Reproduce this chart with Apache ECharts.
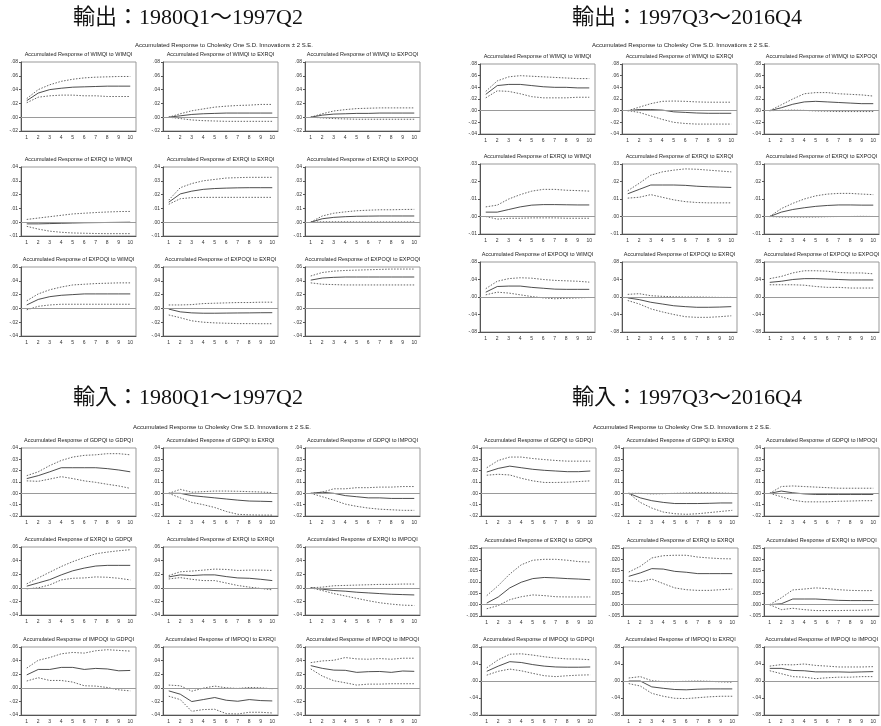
<!DOCTYPE html>
<html>
<head>
<meta charset="utf-8">
<script src="https://cdn.jsdelivr.net/npm/echarts@6/dist/echarts.min.js"></script>
<style>
html, body { margin: 0; padding: 0; background: #fff; }
#chart { width: 881px; height: 726px; }
</style>
</head>
<body>
<div id="chart"></div>
<script>
// horizon labels
const periods = ['1', '2', '3', '4', '5', '6', '7', '8', '9', '10'];
const exportVars = ['WIMQI', 'EXRQI', 'EXPOQI'];
const importVars = ['GDPQI', 'EXRQI', 'IMPOQI'];

// y ticks per row: [min, max, step, decimals]
const ex1Ticks = [[-0.02, 0.08, 0.02, 2], [-0.01, 0.04, 0.01, 2], [-0.04, 0.06, 0.02, 2]];
const ex2Ticks = [[-0.04, 0.08, 0.02, 2], [-0.01, 0.03, 0.01, 2], [-0.08, 0.08, 0.04, 2]];
const im1Ticks = [[-0.02, 0.04, 0.01, 2], [-0.04, 0.06, 0.02, 2], [-0.04, 0.06, 0.02, 2]];
const im2Ticks = [[-0.02, 0.04, 0.01, 2], [-0.005, 0.025, 0.005, 3], [-0.08, 0.08, 0.04, 2]];

// each panel: [response, upper band, lower band]
// 輸出 1980Q1～1997Q2
const ex1_WIMQI_WIMQI = [
  [.024, .035, .040, .042, .0435, .044, .0445, .045, .045, .045],
  [.027, .040, .047, .052, .055, .057, .058, .0585, .059, .059],
  [.021, .029, .031, .032, .032, .031, .031, .030, .030, .030]];
const ex1_WIMQI_EXRQI = [
  [0, .002, .004, .005, .0055, .006, .006, .006, .006, .006],
  [0, .005, .0093, .012, .0146, .016, .017, .0175, .0185, .0185],
  [0, -.002, -.004, -.005, -.0055, -.006, -.006, -.006, -.006, -.006]];
const ex1_WIMQI_EXPOQI = [
  [0, .003, .0045, .005, .0055, .0055, .006, .006, .006, .006],
  [0, .005, .009, .011, .0125, .013, .0135, .0135, .0135, .0135],
  [0, -.001, -.002, -.0025, -.003, -.003, -.003, -.003, -.003, -.003]];
const ex1_EXRQI_WIMQI = [
  [-.0012, -.0012, -.001, -.0008, -.0006, -.0004, -.0003, -.0002, -.0001, 0],
  [.002, .003, .004, .005, .006, .0065, .007, .0074, .0077, .0078],
  [-.003, -.005, -.0065, -.0073, -.0078, -.008, -.0082, -.0083, -.0083, -.0083]];
const ex1_EXRQI_EXRQI = [
  [.0145, .0205, .0225, .0238, .0244, .0247, .0249, .025, .025, .025],
  [.016, .025, .028, .030, .031, .032, .0323, .0325, .0325, .0325],
  [.013, .017, .0178, .018, .018, .018, .018, .018, .018, .018]];
const ex1_EXRQI_EXPOQI = [
  [0, .0025, .0035, .004, .0043, .0044, .0045, .0045, .0045, .0045],
  [0, .0045, .0065, .0075, .0083, .0087, .009, .009, .0092, .0093],
  [0, .0003, .0003, .0003, .0002, .0002, .0002, .0002, .0002, .0002]];
const ex1_EXPOQI_WIMQI = [
  [.005, .013, .017, .019, .020, .021, .021, .021, .021, .021],
  [.011, .021, .027, .031, .034, .035, .036, .0365, .037, .037],
  [-.002, .003, .005, .006, .006, .006, .006, .006, .006, .006]];
const ex1_EXPOQI_EXRQI = [
  [-.001, -.005, -.0065, -.007, -.007, -.0068, -.0066, -.0065, -.0063, -.0062],
  [.005, .005, .0055, .007, .0075, .008, .0085, .0085, .009, .009],
  [-.0095, -.0135, -.018, -.020, -.021, -.0215, -.022, -.022, -.0222, -.0222]];
const ex1_EXPOQI_EXPOQI = [
  [.041, .044, .045, .0455, .0455, .0455, .0455, .0455, .0455, .0455],
  [.047, .052, .054, .055, .0555, .056, .0565, .057, .057, .057],
  [.037, .035, .0345, .034, .034, .034, .034, .034, .034, .034]];

// 輸出 1997Q3～2016Q4
const ex2_WIMQI_WIMQI = [
  [.028, .043, .045, .045, .043, .041, .040, .040, .039, .039],
  [.033, .051, .058, .060, .059, .058, .057, .056, .055, .055],
  [.022, .034, .033, .029, .024, .022, .022, .022, .023, .023]];
const ex2_WIMQI_EXRQI = [
  [0, .002, .002, .001, -.002, -.003, -.004, -.0045, -.0045, -.0045],
  [0, .006, .012, .016, .0165, .016, .015, .0145, .0145, .0145],
  [0, -.003, -.009, -.015, -.020, -.022, -.023, -.023, -.023, -.023]];
const ex2_WIMQI_EXPOQI = [
  [0, .005, .011, .015, .016, .015, .014, .013, .012, .012],
  [0, .010, .020, .029, .031, .031, .029, .028, .027, .025],
  [0, .0005, .001, .0005, -.0005, -.001, -.0015, -.0015, -.0015, -.0015]];
const ex2_EXRQI_WIMQI = [
  [.0025, .0025, .004, .0055, .0065, .0068, .0068, .0067, .0066, .0066],
  [.0055, .0065, .010, .0125, .0145, .0155, .0155, .015, .0148, .0145],
  [0, -.0015, -.001, -.001, -.0008, -.0008, -.0008, -.001, -.001, -.001]];
const ex2_EXRQI_EXRQI = [
  [.013, .0155, .018, .018, .018, .0178, .0173, .017, .0168, .0166],
  [.0147, .019, .0236, .0255, .0265, .0272, .027, .0265, .026, .0255],
  [.0105, .011, .0125, .011, .0095, .0085, .008, .0078, .0078, .0078]];
const ex2_EXRQI_EXPOQI = [
  [0, .0025, .004, .005, .0058, .0063, .0066, .0066, .0065, .0065],
  [0, .0045, .0075, .010, .0118, .0128, .0132, .0132, .0128, .0125],
  [0, -.0003, -.0003, -.0003, -.0003, -.0001, 0, 0, .0001, 0]];
const ex2_EXPOQI_WIMQI = [
  [.011, .024, .025, .025, .022, .020, .018, .0175, .0175, .0175],
  [.019, .036, .042, .044, .043, .040, .038, .037, .036, .034],
  [.005, .011, .009, .005, .001, -.002, -.004, -.003, -.002, -.001]];
const ex2_EXPOQI_EXRQI = [
  [-.002, -.006, -.012, -.016, -.020, -.022, -.0235, -.0235, -.023, -.022],
  [.006, .0076, .003, .0015, .0005, 0, 0, -.0005, -.001, -.001],
  [-.008, -.016, -.027, -.034, -.040, -.045, -.0465, -.0465, -.045, -.043]];
const ex2_EXPOQI_EXPOQI = [
  [.0335, .036, .040, .042, .042, .041, .040, .039, .039, .039],
  [.042, .047, .055, .060, .060, .059, .056, .055, .055, .053],
  [.028, .028, .028, .027, .024, .022, .022, .0205, .0205, .0205]];

// 輸入 1980Q1～1997Q2
const im1_GDPQI_GDPQI = [
  [.013, .0156, .019, .0226, .0226, .0226, .0226, .0218, .0206, .019],
  [.0156, .019, .0245, .029, .032, .0335, .034, .035, .035, .034],
  [.011, .0106, .0126, .0147, .013, .011, .0097, .008, .0065, .0044]];
const im1_GDPQI_EXRQI = [
  [0, 0, -.002, -.003, -.004, -.005, -.006, -.0068, -.007, -.0073],
  [0, .0035, .001, .0015, .002, .002, .0018, .0015, .0012, .0006],
  [0, -.004, -.008, -.010, -.0125, -.016, -.0185, -.019, -.0192, -.0192]];
const im1_GDPQI_IMPOQI = [
  [0, .001, 0, -.002, -.003, -.004, -.004, -.0045, -.0045, -.0045],
  [0, .001, .004, .004, .005, .005, .0055, .0055, .006, .006],
  [0, -.003, -.006, -.0095, -.0115, -.013, -.014, -.0145, -.015, -.015]];
const im1_EXRQI_GDPQI = [
  [.0024, .0072, .012, .019, .025, .029, .032, .033, .033, .033],
  [.0058, .0145, .023, .0313, .0385, .0445, .050, .0525, .0545, .056],
  [-.0015, 0, .0043, .0116, .014, .0145, .016, .0155, .014, .0116]];
const im1_EXRQI_EXRQI = [
  [.016, .019, .018, .019, .019, .0165, .0145, .014, .0125, .0106],
  [.018, .0236, .0246, .026, .0275, .027, .0255, .026, .026, .0255],
  [.013, .015, .0125, .0106, .0106, .007, .0034, .001, -.001, -.003]];
const im1_EXRQI_IMPOQI = [
  [0, -.002, -.004, -.005, -.0065, -.0075, -.0085, -.0095, -.010, -.0105],
  [0, .001, .003, .0035, .004, .0045, .005, .005, .0055, .0055],
  [0, -.004, -.0085, -.012, -.0155, -.019, -.022, -.024, -.0255, -.026]];
const im1_IMPOQI_GDPQI = [
  [.019, .027, .027, .030, .030, .027, .0285, .0277, .025, .0255],
  [.029, .0405, .0445, .050, .052, .051, .0545, .056, .055, .054],
  [.010, .0148, .0108, .0108, .0084, .003, .0025, .0005, -.003, -.0045]];
const im1_IMPOQI_EXRQI = [
  [-.0045, -.0094, -.0202, -.0173, -.0143, -.0183, -.0198, -.0173, -.0188, -.0193],
  [.004, .003, -.005, -.0005, .0025, 0, -.001, .0005, 0, -.0015],
  [-.0124, -.0173, -.0346, -.032, -.0316, -.038, -.0385, -.036, -.036, -.037]];
const im1_IMPOQI_IMPOQI = [
  [.0326, .0286, .026, .0257, .0227, .0237, .024, .0227, .0247, .0242],
  [.037, .0395, .0405, .0445, .0425, .042, .043, .042, .0435, .0435],
  [.0277, .0173, .0104, .0074, .004, .0054, .0054, .006, .006, .006]];

// 輸入 1997Q3～2016Q4
const im2_GDPQI_GDPQI = [
  [.0188, .022, .024, .0226, .0212, .0203, .0197, .0191, .0191, .0197],
  [.0226, .029, .032, .032, .0307, .0298, .029, .0284, .0284, .0284],
  [.016, .0168, .0162, .0133, .011, .0096, .0096, .0098, .0104, .011]];
const im2_GDPQI_EXRQI = [
  [0, -.004, -.0065, -.008, -.009, -.009, -.009, -.0088, -.0085, -.0085],
  [0, 0, -.0005, -.0003, 0, .0003, .0005, .0005, .0003, 0],
  [0, -.008, -.013, -.0165, -.018, -.0185, -.018, -.017, -.016, -.015]];
const im2_GDPQI_IMPOQI = [
  [0, .002, .0005, -.0005, -.001, -.001, -.001, -.001, -.001, -.001],
  [0, .006, .0065, .006, .0055, .005, .0045, .0045, .0045, .0045],
  [0, -.003, -.006, -.0075, -.0075, -.0075, -.007, -.0068, -.0065, -.0065]];
const im2_EXRQI_GDPQI = [
  [.0007, .0034, .0074, .0099, .0115, .012, .0118, .0115, .0113, .011],
  [.004, .0084, .0135, .0176, .0196, .020, .020, .0196, .019, .0188],
  [-.0018, -.0004, .0022, .0035, .0043, .004, .0035, .0034, .0034, .0034]];
const im2_EXRQI_EXRQI = [
  [.0125, .014, .0159, .0157, .0147, .0143, .0137, .0137, .0137, .0137],
  [.0144, .0169, .0206, .0216, .0218, .0218, .021, .0206, .0203, .0202],
  [.0106, .0101, .0113, .0093, .0074, .0066, .0063, .0063, .0066, .0069]];
const im2_EXRQI_IMPOQI = [
  [0, .0004, .0025, .0025, .0025, .0022, .0019, .0018, .0018, .0018],
  [0, .003, .0065, .0069, .0074, .0071, .0066, .0063, .0062, .0062],
  [0, -.0022, -.0016, -.0022, -.0026, -.0026, -.0026, -.0025, -.0025, -.0022]];
const im2_IMPOQI_GDPQI = [
  [.0228, .035, .0455, .0435, .0386, .035, .033, .0324, .0324, .033],
  [.031, .050, .063, .064, .061, .057, .054, .052, .0517, .050],
  [.0138, .0228, .028, .024, .018, .0124, .0103, .0124, .0138, .0145]];
const im2_IMPOQI_EXRQI = [
  [0, 0, -.0138, -.0172, -.020, -.0207, -.0193, -.0186, -.0186, -.0186],
  [.007, .0103, .0007, -.0014, -.0014, -.0007, 0, -.0007, -.002, -.0028],
  [-.0062, -.0117, -.029, -.0359, -.0407, -.0414, -.0393, -.0372, -.0359, -.0359]];
const im2_IMPOQI_IMPOQI = [
  [.0297, .0297, .0248, .0241, .0214, .0214, .0214, .0207, .0214, .0221],
  [.035, .0386, .038, .040, .0366, .035, .033, .033, .033, .0338],
  [.0241, .0172, .0103, .009, .0055, .0076, .009, .009, .0103, .0103]];

const ex1Panels = [ex1_WIMQI_WIMQI, ex1_WIMQI_EXRQI, ex1_WIMQI_EXPOQI,
  ex1_EXRQI_WIMQI, ex1_EXRQI_EXRQI, ex1_EXRQI_EXPOQI,
  ex1_EXPOQI_WIMQI, ex1_EXPOQI_EXRQI, ex1_EXPOQI_EXPOQI];
const ex2Panels = [ex2_WIMQI_WIMQI, ex2_WIMQI_EXRQI, ex2_WIMQI_EXPOQI,
  ex2_EXRQI_WIMQI, ex2_EXRQI_EXRQI, ex2_EXRQI_EXPOQI,
  ex2_EXPOQI_WIMQI, ex2_EXPOQI_EXRQI, ex2_EXPOQI_EXPOQI];
const im1Panels = [im1_GDPQI_GDPQI, im1_GDPQI_EXRQI, im1_GDPQI_IMPOQI,
  im1_EXRQI_GDPQI, im1_EXRQI_EXRQI, im1_EXRQI_IMPOQI,
  im1_IMPOQI_GDPQI, im1_IMPOQI_EXRQI, im1_IMPOQI_IMPOQI];
const im2Panels = [im2_GDPQI_GDPQI, im2_GDPQI_EXRQI, im2_GDPQI_IMPOQI,
  im2_EXRQI_GDPQI, im2_EXRQI_EXRQI, im2_EXRQI_IMPOQI,
  im2_IMPOQI_GDPQI, im2_IMPOQI_EXRQI, im2_IMPOQI_IMPOQI];

// quadrant layout (pixels)
const quads = [
  { title: '輸出：1980Q1～1997Q2', tx: 188, ty: 18, sx: 224, sy: 45, vars: exportVars, ticks: ex1Ticks, panels: ex1Panels,
    cols: [21, 163, 305], rows: [62, 167, 267], w: 115, h: 69 },
  { title: '輸出：1997Q3～2016Q4', tx: 687, ty: 18, sx: 681, sy: 45, vars: exportVars, ticks: ex2Ticks, panels: ex2Panels,
    cols: [480, 622, 764], rows: [64, 164, 262], w: 115, h: 70 },
  { title: '輸入：1980Q1～1997Q2', tx: 188, ty: 398, sx: 222, sy: 427, vars: importVars, ticks: im1Ticks, panels: im1Panels,
    cols: [21, 163, 305], rows: [448, 547, 647], w: 115, h: 68 },
  { title: '輸入：1997Q3～2016Q4', tx: 687, ty: 398, sx: 682, sy: 427, vars: importVars, ticks: im2Ticks, panels: im2Panels,
    cols: [481, 623, 764], rows: [448, 548, 647], w: 115, h: 68 }
];

const SMALL = "'Liberation Sans', Arial, sans-serif";
const grids = [], xAxes = [], yAxes = [], series = [], graphics = [];

quads.forEach(function (q) {
  graphics.push({
    type: 'text', x: q.tx, y: q.ty,
    style: { text: q.title, font: "22px 'Liberation Serif', 'Noto Sans CJK JP', serif", fill: '#111',
      textAlign: 'center', textVerticalAlign: 'middle' }
  });
  graphics.push({
    type: 'text', x: q.sx, y: q.sy,
    style: { text: 'Accumulated Response to Cholesky One S.D. Innovations \u00b1 2 S.E.', font: '6px ' + SMALL, fill: '#222',
      textAlign: 'center', textVerticalAlign: 'middle' }
  });
  for (let r = 0; r < 3; r++) {
    const t = q.ticks[r];
    for (let c = 0; c < 3; c++) {
      const idx = grids.length;
      const left = q.cols[c], top = q.rows[r];
      grids.push({ left: left, top: top, width: q.w, height: q.h, show: true, borderColor: '#999', borderWidth: 1,
        backgroundColor: '#fff', outerBoundsMode: 'none' });
      graphics.push({
        type: 'text', x: left + q.w / 2, y: top - 8,
        style: { text: 'Accumulated Response of ' + q.vars[r] + ' to ' + q.vars[c], font: '5.5px ' + SMALL, fill: '#222',
          textAlign: 'center', textVerticalAlign: 'middle' }
      });
      xAxes.push({
        type: 'category', gridIndex: idx, data: periods, boundaryGap: true,
        axisLine: { onZero: false, lineStyle: { color: '#555', width: 1 } },
        axisTick: { alignWithLabel: true, length: 2, lineStyle: { color: '#555' } },
        axisLabel: { fontSize: 5, color: '#333', margin: 4, interval: 0, fontFamily: SMALL },
        splitLine: { show: false }
      });
      yAxes.push({
        type: 'value', gridIndex: idx, min: t[0], max: t[1], interval: t[2],
        axisLine: { show: true, lineStyle: { color: '#555', width: 1 } },
        axisTick: { show: true, length: 2, lineStyle: { color: '#555' } },
        axisLabel: { fontSize: 5, color: '#333', margin: 3, fontFamily: SMALL,
          formatter: function (v) {
            const s = Math.abs(v).toFixed(t[3]).replace(/^0/, '');
            return (v < -1e-9 ? '-' : '') + s;
          } },
        splitLine: { show: false }
      });
      const d = q.panels[r * 3 + c];
      series.push({
        type: 'line', xAxisIndex: idx, yAxisIndex: idx, data: d[0], symbol: 'none', silent: true, animation: false,
        lineStyle: { color: '#3a3a3a', width: 0.9, type: 'solid' },
        markLine: { silent: true, symbol: 'none', label: { show: false }, animation: false,
          lineStyle: { color: '#9a9a9a', width: 1, type: 'solid' }, data: [{ yAxis: 0 }] }
      });
      series.push({
        type: 'line', xAxisIndex: idx, yAxisIndex: idx, data: d[1], symbol: 'none', silent: true, animation: false,
        lineStyle: { color: '#555', width: 0.9, type: [1.5, 1.5] }
      });
      series.push({
        type: 'line', xAxisIndex: idx, yAxisIndex: idx, data: d[2], symbol: 'none', silent: true, animation: false,
        lineStyle: { color: '#555', width: 0.9, type: [1.5, 1.5] }
      });
    }
  }
});

const chart = echarts.init(document.getElementById('chart'), null, { renderer: 'canvas' });
chart.setOption({
  backgroundColor: '#fff',
  animation: false,
  grid: grids,
  xAxis: xAxes,
  yAxis: yAxes,
  series: series,
  graphic: graphics
});
</script>
</body>
</html>
